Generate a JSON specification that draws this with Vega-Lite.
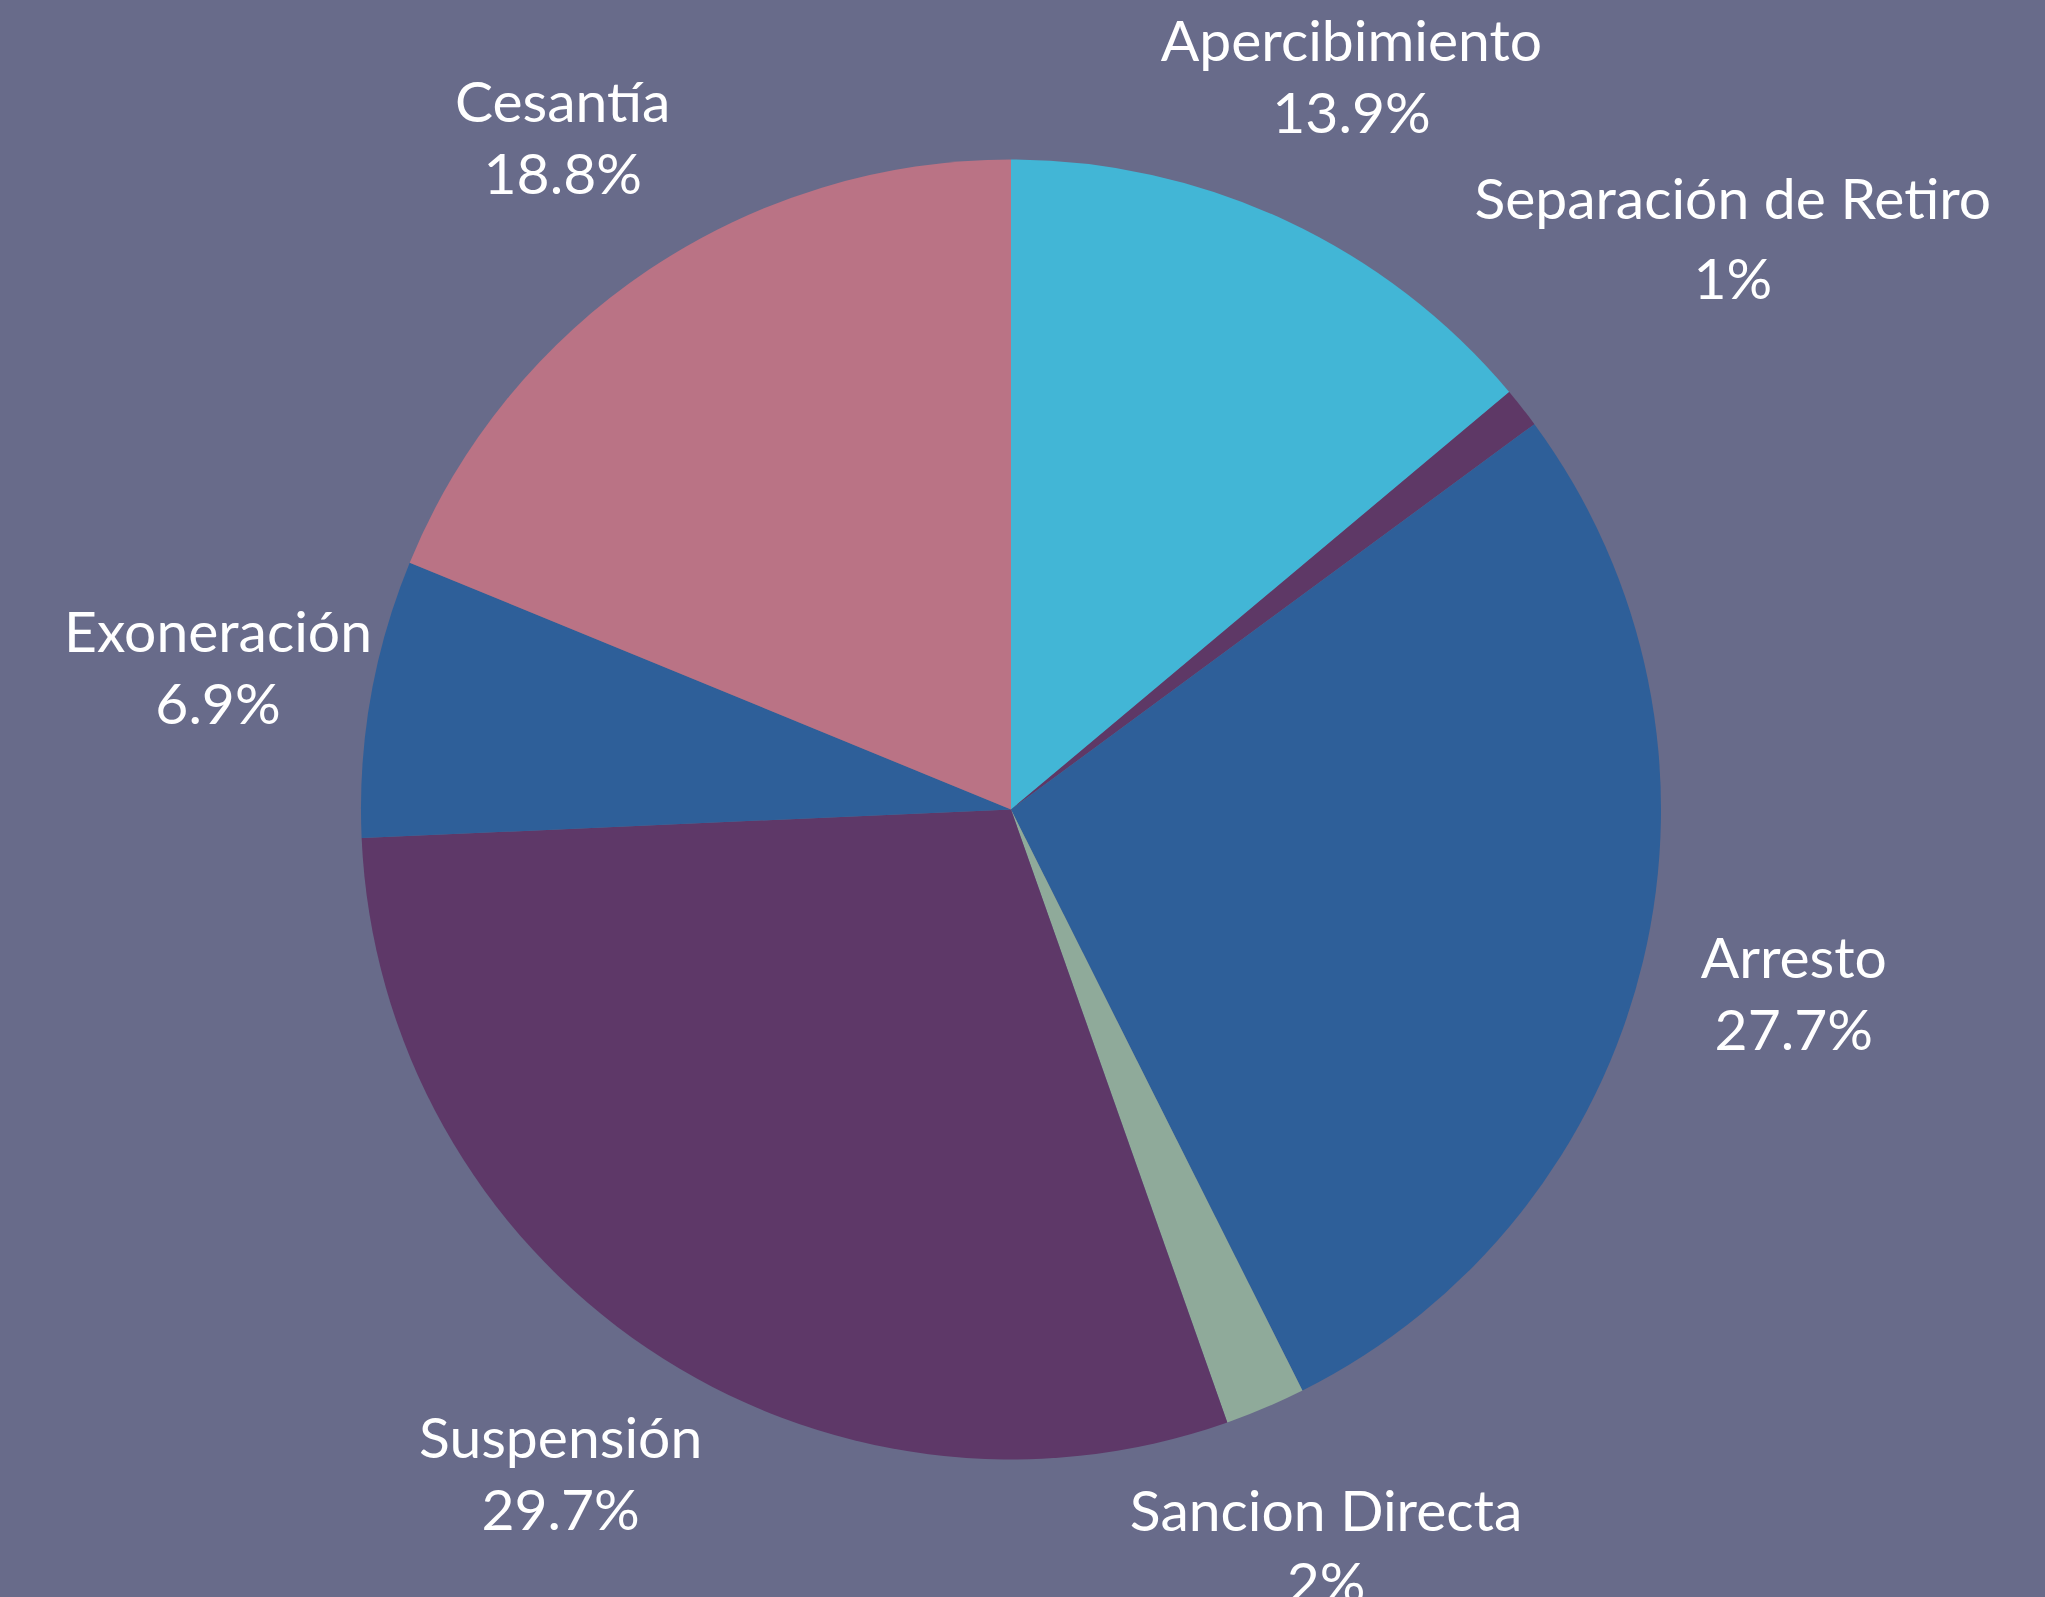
{
  "$schema": "https://vega.github.io/schema/vega-lite/v6.json",
  "autosize": "none",
  "width": 2022,
  "height": 1575,
  "padding": {"left": 0, "top": 22, "right": 23, "bottom": 0},
  "background": "#686B8A",
  "config": {"view": {"stroke": null}, "text": {"font": "Lato"}},
  "data": {
    "values": [
      {"categoria": "Apercibimiento", "porcentaje": 13.9, "etiqueta": "13.9%", "orden": 1},
      {"categoria": "Separación de Retiro", "porcentaje": 1, "etiqueta": "1%", "orden": 2},
      {"categoria": "Arresto", "porcentaje": 27.7, "etiqueta": "27.7%", "orden": 3},
      {"categoria": "Sancion Directa", "porcentaje": 2, "etiqueta": "2%", "orden": 4},
      {"categoria": "Suspensión", "porcentaje": 29.7, "etiqueta": "29.7%", "orden": 5},
      {"categoria": "Exoneración", "porcentaje": 6.9, "etiqueta": "6.9%", "orden": 6},
      {"categoria": "Cesantía", "porcentaje": 18.8, "etiqueta": "18.8%", "orden": 7}
    ]
  },
  "encoding": {
    "theta": {"field": "porcentaje", "type": "quantitative", "stack": true},
    "order": {"field": "orden", "type": "quantitative"}
  },
  "layer": [
    {
      "mark": {"type": "arc", "radius": 650, "stroke": null},
      "encoding": {
        "color": {
          "field": "categoria",
          "type": "nominal",
          "legend": null,
          "scale": {
            "domain": ["Apercibimiento", "Separación de Retiro", "Arresto", "Sancion Directa", "Suspensión", "Exoneración", "Cesantía"],
            "range": ["#42B6D6", "#5E3866", "#2E5F99", "#8FAA9A", "#5E3868", "#2E5F99", "#BA7385"]
          }
        }
      }
    },
    {
      "mark": {"type": "text", "radius": 805, "dy": -36, "fontSize": 57, "color": "white", "align": "center", "baseline": "middle"},
      "encoding": {
        "text": {"field": "categoria"},
        "opacity": {"condition": {"test": "datum.categoria === 'Separación de Retiro'", "value": 0}, "value": 1}
      }
    },
    {
      "mark": {"type": "text", "radius": 805, "dy": 36, "fontSize": 57, "color": "white", "align": "center", "baseline": "middle"},
      "encoding": {
        "text": {"field": "etiqueta"},
        "opacity": {"condition": {"test": "datum.categoria === 'Separación de Retiro'", "value": 0}, "value": 1}
      }
    },
    {
      "mark": {"type": "text", "radius": 918, "dy": -40, "fontSize": 57, "color": "white", "align": "center", "baseline": "middle"},
      "encoding": {
        "text": {"field": "categoria"},
        "opacity": {"condition": {"test": "datum.categoria === 'Separación de Retiro'", "value": 1}, "value": 0}
      }
    },
    {
      "mark": {"type": "text", "radius": 918, "dy": 40, "fontSize": 57, "color": "white", "align": "center", "baseline": "middle"},
      "encoding": {
        "text": {"field": "etiqueta"},
        "opacity": {"condition": {"test": "datum.categoria === 'Separación de Retiro'", "value": 1}, "value": 0}
      }
    }
  ]
}
